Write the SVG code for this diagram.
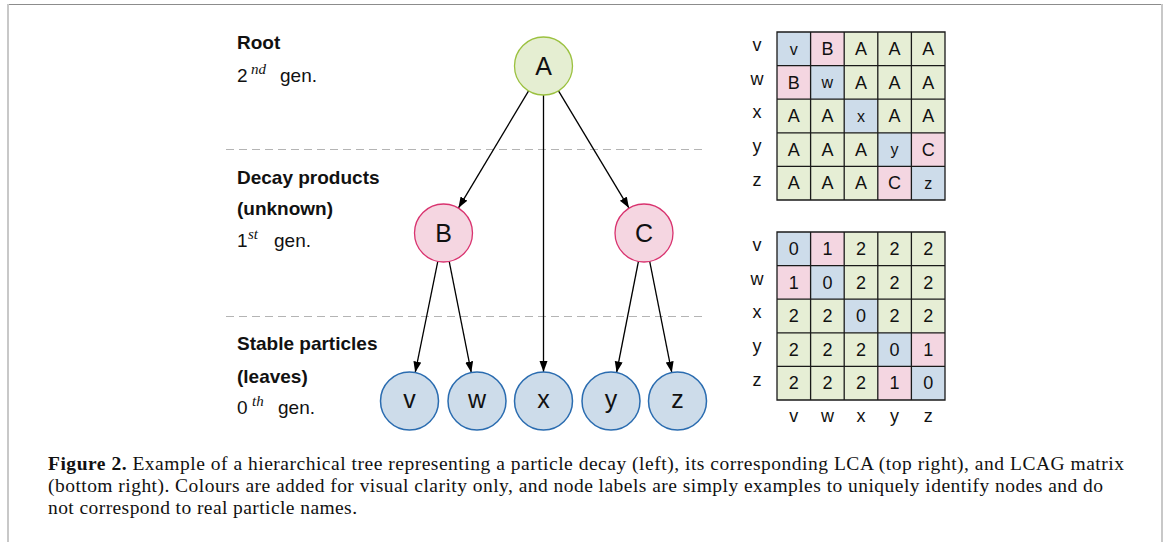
<svg xmlns="http://www.w3.org/2000/svg" width="1167" height="542" viewBox="0 0 1167 542">
  <style>
    .lbl { font-family: "Liberation Sans", Arial, sans-serif; font-size: 19px; fill: #111; }
    .b { font-weight: bold; }
    .sup { font-family: "Liberation Serif", "Times New Roman", serif; font-style: italic; font-size: 15px; fill: #111; }
    .node-text { font-family: "Liberation Sans", Arial, sans-serif; font-size: 25px; fill: #111; text-anchor: middle; }
    .root { fill: #e5eed2; stroke: #9bc13f; stroke-width: 1.3; }
    .mid { fill: #f5d6e1; stroke: #d9336f; stroke-width: 1.3; }
    .leaf { fill: #cddcea; stroke: #2a6cb0; stroke-width: 1.5; }
    .edge { stroke: #000; stroke-width: 1.3; fill: none; marker-end: url(#arrow); }
    .sep { stroke: #b4b4b4; stroke-width: 1.2; stroke-dasharray: 8 5; }
    .cb { fill: #cddcea; }
    .cp { fill: #f4d6e1; }
    .cg { fill: #e6eed5; }
    .grid { stroke: #1a1a1a; stroke-width: 1.3; fill: none; }
    .mt { font-family: "Liberation Sans", Arial, sans-serif; font-size: 18px; fill: #111; text-anchor: middle; }
    .ms { font-family: "Liberation Sans", Arial, sans-serif; font-size: 16px; fill: #111; text-anchor: middle; }
    .cap { font-family: "Liberation Serif", "Times New Roman", serif; font-size: 19.5px; fill: #111; }
  </style>
  <defs>
    <marker id="arrow" markerUnits="userSpaceOnUse" markerWidth="12" markerHeight="10" refX="11" refY="4" orient="auto">
      <path d="M0,0 L11,4 L0,8 Z" fill="#000"/>
    </marker>
  </defs>

  <!-- page frame -->
  <g id="frame">
    <line x1="7" y1="4.5" x2="1163" y2="4.5" stroke="#8c8c8c" stroke-width="1"/>
    <line x1="8" y1="4" x2="8" y2="542" stroke="#c8c8c8" stroke-width="2"/>
    <line x1="1162" y1="4" x2="1162" y2="542" stroke="#c8c8c8" stroke-width="2"/>
  </g>

  <!-- generation separators -->
  <g id="separators">
    <line class="sep" x1="226" y1="149.5" x2="706" y2="149.5"/>
    <line class="sep" x1="226" y1="316.5" x2="706" y2="316.5"/>
  </g>

  <!-- generation labels -->
  <g id="labels">
    <text class="lbl b" x="237" y="49">Root</text>
    <text class="lbl" x="237" y="82">2</text>
    <text class="sup" x="251" y="74">nd</text>
    <text class="lbl" x="280" y="82">gen.</text>

    <text class="lbl b" x="237" y="184">Decay products</text>
    <text class="lbl b" x="237" y="215">(unknown)</text>
    <text class="lbl" x="237" y="247">1</text>
    <text class="sup" x="248" y="239">st</text>
    <text class="lbl" x="274" y="247">gen.</text>

    <text class="lbl b" x="237" y="350">Stable particles</text>
    <text class="lbl b" x="237" y="383">(leaves)</text>
    <text class="lbl" x="237" y="414">0</text>
    <text class="sup" x="252" y="406">th</text>
    <text class="lbl" x="278" y="414">gen.</text>
  </g>

  <!-- connectors -->
  <g id="connectors">
    <line class="edge" x1="528.6" y1="90.9" x2="458.4" y2="208.1"/>
    <line class="edge" x1="558.5" y1="90.8" x2="629.0" y2="208.1"/>
    <line class="edge" x1="543.5" y1="95" x2="543.5" y2="372" stroke-width="1.7"/>
    <line class="edge" x1="437.8" y1="261.4" x2="415.2" y2="372.6"/>
    <line class="edge" x1="449.2" y1="261.4" x2="471.3" y2="372.6"/>
    <line class="edge" x1="638.4" y1="261.5" x2="616.6" y2="372.5"/>
    <line class="edge" x1="649.7" y1="261.4" x2="671.8" y2="372.6"/>
  </g>

  <!-- tree nodes -->
  <g id="node-A"><circle class="root" cx="543.5" cy="66" r="29"/><text class="node-text" x="543.5" y="75">A</text></g>
  <g id="node-B"><circle class="mid" cx="443.5" cy="233" r="29"/><text class="node-text" x="443.5" y="242">B</text></g>
  <g id="node-C"><circle class="mid" cx="644" cy="233" r="29"/><text class="node-text" x="644" y="242">C</text></g>
  <g id="node-v"><circle class="leaf" cx="409.5" cy="401" r="29"/><text class="node-text" x="409.5" y="408">v</text></g>
  <g id="node-w"><circle class="leaf" cx="477" cy="401" r="29"/><text class="node-text" x="477" y="408">w</text></g>
  <g id="node-x"><circle class="leaf" cx="543.5" cy="401" r="29"/><text class="node-text" x="543.5" y="408">x</text></g>
  <g id="node-y"><circle class="leaf" cx="611" cy="401" r="29"/><text class="node-text" x="611" y="408">y</text></g>
  <g id="node-z"><circle class="leaf" cx="677.5" cy="401" r="29"/><text class="node-text" x="677.5" y="408">z</text></g>

  <!-- LCA matrix -->
  <g id="lca-matrix">
    <g class="row-labels">
      <text class="mt" x="757" y="51">v</text>
      <text class="mt" x="757" y="85">w</text>
      <text class="mt" x="757" y="118">x</text>
      <text class="mt" x="757" y="152">y</text>
      <text class="mt" x="757" y="186">z</text>
    </g>
    <!-- row v -->
    <rect class="cb" x="777" y="32" width="33.6" height="33.6"/>
    <rect class="cp" x="810.6" y="32" width="33.6" height="33.6"/>
    <rect class="cg" x="844.2" y="32" width="100.8" height="33.6"/>
    <!-- row w -->
    <rect class="cp" x="777" y="65.6" width="33.6" height="33.6"/>
    <rect class="cb" x="810.6" y="65.6" width="33.6" height="33.6"/>
    <rect class="cg" x="844.2" y="65.6" width="100.8" height="33.6"/>
    <!-- row x -->
    <rect class="cg" x="777" y="99.2" width="67.2" height="33.6"/>
    <rect class="cb" x="844.2" y="99.2" width="33.6" height="33.6"/>
    <rect class="cg" x="877.8" y="99.2" width="67.2" height="33.6"/>
    <!-- row y -->
    <rect class="cg" x="777" y="132.8" width="100.8" height="33.6"/>
    <rect class="cb" x="877.8" y="132.8" width="33.6" height="33.6"/>
    <rect class="cp" x="911.4" y="132.8" width="33.6" height="33.6"/>
    <!-- row z -->
    <rect class="cg" x="777" y="166.4" width="100.8" height="33.6"/>
    <rect class="cp" x="877.8" y="166.4" width="33.6" height="33.6"/>
    <rect class="cb" x="911.4" y="166.4" width="33.6" height="33.6"/>
    <path class="grid" d="M777,32 H945 V200 H777 Z M777,65.6 H945 M777,99.2 H945 M777,132.8 H945 M777,166.4 H945 M810.6,32 V200 M844.2,32 V200 M877.8,32 V200 M911.4,32 V200"/>
    <g class="cells">
      <text class="ms" x="793.8" y="54.5">v</text><text class="mt" x="827.4" y="55">B</text><text class="mt" x="861" y="55">A</text><text class="mt" x="894.6" y="55">A</text><text class="mt" x="928.2" y="55">A</text>
      <text class="mt" x="793.8" y="88.6">B</text><text class="ms" x="827.4" y="88">w</text><text class="mt" x="861" y="88.6">A</text><text class="mt" x="894.6" y="88.6">A</text><text class="mt" x="928.2" y="88.6">A</text>
      <text class="mt" x="793.8" y="122.2">A</text><text class="mt" x="827.4" y="122.2">A</text><text class="ms" x="861" y="121.6">x</text><text class="mt" x="894.6" y="122.2">A</text><text class="mt" x="928.2" y="122.2">A</text>
      <text class="mt" x="793.8" y="155.8">A</text><text class="mt" x="827.4" y="155.8">A</text><text class="mt" x="861" y="155.8">A</text><text class="ms" x="894.6" y="155.2">y</text><text class="mt" x="928.2" y="155.8">C</text>
      <text class="mt" x="793.8" y="189.4">A</text><text class="mt" x="827.4" y="189.4">A</text><text class="mt" x="861" y="189.4">A</text><text class="mt" x="894.6" y="189.4">C</text><text class="ms" x="928.2" y="188.8">z</text>
    </g>
  </g>

  <!-- LCAG matrix -->
  <g id="lcag-matrix">
    <g class="row-labels">
      <text class="mt" x="757" y="251">v</text>
      <text class="mt" x="757" y="285">w</text>
      <text class="mt" x="757" y="318">x</text>
      <text class="mt" x="757" y="352">y</text>
      <text class="mt" x="757" y="386">z</text>
    </g>
    <rect class="cb" x="777" y="232" width="33.6" height="33.6"/>
    <rect class="cp" x="810.6" y="232" width="33.6" height="33.6"/>
    <rect class="cg" x="844.2" y="232" width="100.8" height="33.6"/>
    <rect class="cp" x="777" y="265.6" width="33.6" height="33.6"/>
    <rect class="cb" x="810.6" y="265.6" width="33.6" height="33.6"/>
    <rect class="cg" x="844.2" y="265.6" width="100.8" height="33.6"/>
    <rect class="cg" x="777" y="299.2" width="67.2" height="33.6"/>
    <rect class="cb" x="844.2" y="299.2" width="33.6" height="33.6"/>
    <rect class="cg" x="877.8" y="299.2" width="67.2" height="33.6"/>
    <rect class="cg" x="777" y="332.8" width="100.8" height="33.6"/>
    <rect class="cb" x="877.8" y="332.8" width="33.6" height="33.6"/>
    <rect class="cp" x="911.4" y="332.8" width="33.6" height="33.6"/>
    <rect class="cg" x="777" y="366.4" width="100.8" height="33.6"/>
    <rect class="cp" x="877.8" y="366.4" width="33.6" height="33.6"/>
    <rect class="cb" x="911.4" y="366.4" width="33.6" height="33.6"/>
    <path class="grid" d="M777,232 H945 V400 H777 Z M777,265.6 H945 M777,299.2 H945 M777,332.8 H945 M777,366.4 H945 M810.6,232 V400 M844.2,232 V400 M877.8,232 V400 M911.4,232 V400"/>
    <g class="cells">
      <text class="mt" x="793.8" y="255">0</text><text class="mt" x="827.4" y="255">1</text><text class="mt" x="861" y="255">2</text><text class="mt" x="894.6" y="255">2</text><text class="mt" x="928.2" y="255">2</text>
      <text class="mt" x="793.8" y="288.6">1</text><text class="mt" x="827.4" y="288.6">0</text><text class="mt" x="861" y="288.6">2</text><text class="mt" x="894.6" y="288.6">2</text><text class="mt" x="928.2" y="288.6">2</text>
      <text class="mt" x="793.8" y="322.2">2</text><text class="mt" x="827.4" y="322.2">2</text><text class="mt" x="861" y="322.2">0</text><text class="mt" x="894.6" y="322.2">2</text><text class="mt" x="928.2" y="322.2">2</text>
      <text class="mt" x="793.8" y="355.8">2</text><text class="mt" x="827.4" y="355.8">2</text><text class="mt" x="861" y="355.8">2</text><text class="mt" x="894.6" y="355.8">0</text><text class="mt" x="928.2" y="355.8">1</text>
      <text class="mt" x="793.8" y="389.4">2</text><text class="mt" x="827.4" y="389.4">2</text><text class="mt" x="861" y="389.4">2</text><text class="mt" x="894.6" y="389.4">1</text><text class="mt" x="928.2" y="389.4">0</text>
    </g>
    <g class="col-labels">
      <text class="mt" x="793.8" y="422">v</text>
      <text class="mt" x="827.4" y="422">w</text>
      <text class="mt" x="861" y="422">x</text>
      <text class="mt" x="894.6" y="422">y</text>
      <text class="mt" x="928.2" y="422">z</text>
    </g>
  </g>

  <!-- caption -->
  <g id="caption">
    <text class="cap" x="48" y="470" textLength="1076"><tspan font-weight="bold">Figure 2.</tspan> Example of a hierarchical tree representing a particle decay (left), its corresponding LCA (top right), and LCAG matrix</text>
    <text class="cap" x="48" y="492" textLength="1055">(bottom right). Colours are added for visual clarity only, and node labels are simply examples to uniquely identify nodes and do</text>
    <text class="cap" x="48" y="514" textLength="309">not correspond to real particle names.</text>
  </g>
</svg>
